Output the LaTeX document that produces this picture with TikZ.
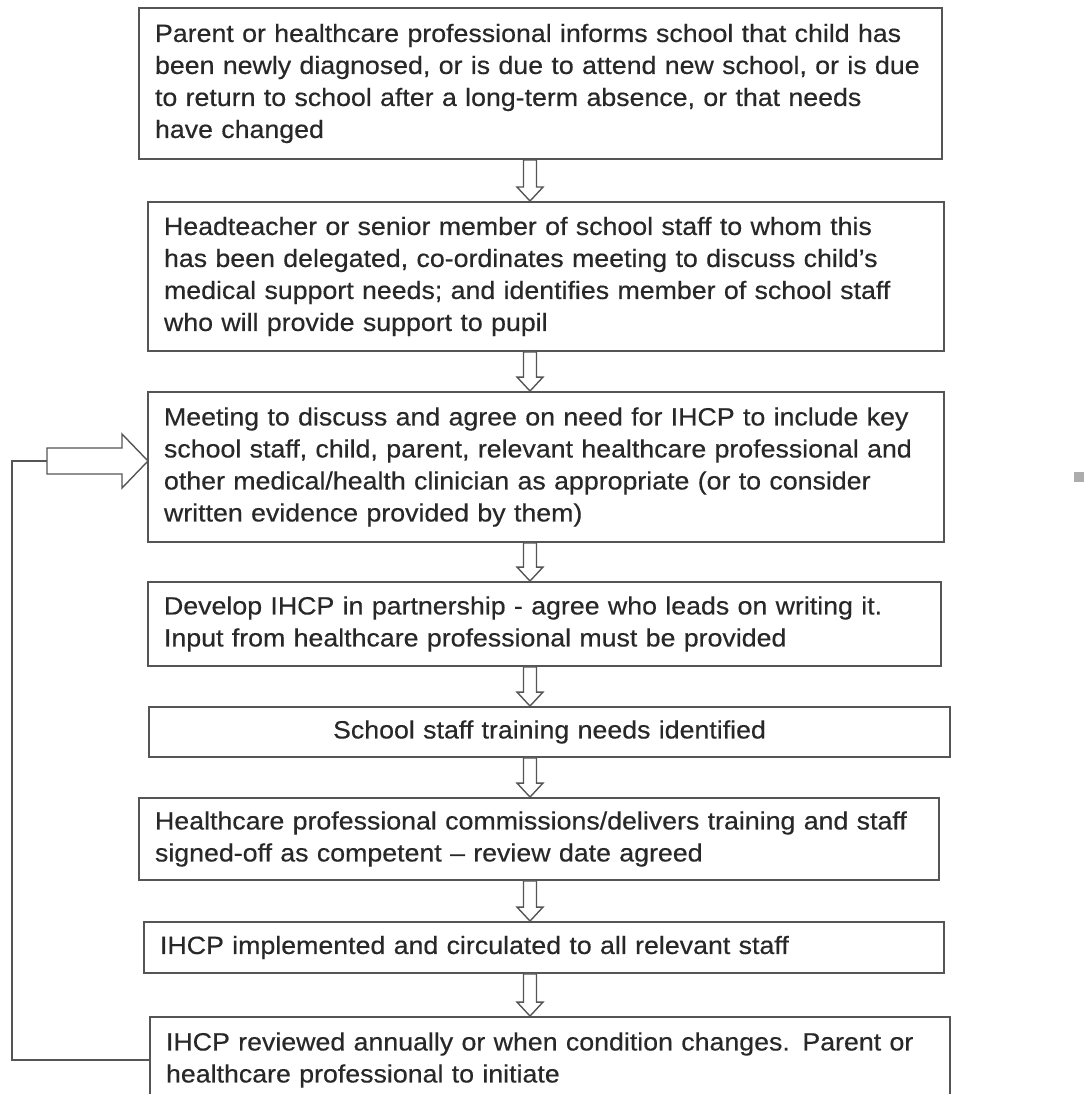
\documentclass[tikz,border=0pt]{standalone}
\usepackage{fontspec}
\setmainfont[FakeStretch=1.07,FakeBold=0.4]{Liberation Sans}
\usetikzlibrary{calc}
\definecolor{edge}{RGB}{85,85,85}
\definecolor{ink}{RGB}{40,40,40}
\tikzset{
  stepbox/.style={draw=edge, line width=1.9pt, text=ink, inner xsep=16pt, inner ysep=0pt,
    align=left, font=\fontsize{25}{32}\selectfont, anchor=center},
  blockarr/.style={draw=edge, line width=1.4pt, fill=white, line join=miter},
  loopline/.style={draw=edge, line width=1.6pt},
}
\newcommand\dnarrow[2]{\draw[blockarr] let \p1=(#1.south), \p2=(#2.north) in
  (523.5pt,\y1) -- (536.5pt,\y1) -- (536.5pt,\y2+14pt) -- (543pt,\y2+14pt) --
  (530pt,\y2) -- (517pt,\y2+14pt) -- (523.5pt,\y2+14pt) -- cycle;}
\begin{document}
\begin{tikzpicture}[x=1pt,y=-1pt]
\clip (0,0) rectangle (1085,1094);
\fill[white] (0,0) rectangle (1085,1094);

\node[stepbox, minimum height=151pt, text width=771pt] (b1) at (540.5,83.5)
 {Parent or healthcare professional informs school that child has\\
  been newly diagnosed, or is due to attend new school, or is due\\
  to return to school after a long-term absence, or that needs\\
  have changed};
\node[stepbox, minimum height=149pt, text width=764pt] (b2) at (546,276.5)
 {Headteacher or senior member of school staff to whom this\\
  has been delegated, co-ordinates meeting to discuss child’s\\
  medical support needs; and identifies member of school staff\\
  who will provide support to pupil};
\node[stepbox, minimum height=150pt, text width=764pt] (b3) at (546,467)
 {Meeting to discuss and agree on need for IHCP to include key\\
  school staff, child, parent, relevant healthcare professional and\\
  other medical/health clinician as appropriate (or to consider\\
  written evidence provided by them)};
\node[stepbox, minimum height=84pt, text width=761pt] (b4) at (544.5,624)
 {Develop IHCP in partnership - agree who leads on writing it.\\
  Input from healthcare professional must be provided};
\node[stepbox, align=center, minimum height=50pt, text width=769pt] (b5) at (549.5,732)
 {School staff training needs identified};
\node[stepbox, minimum height=82pt, text width=768pt] (b6) at (539,839)
 {Healthcare professional commissions/delivers training and staff\\
  signed-off as competent – review date agreed};
\node[stepbox, minimum height=51pt, text width=768pt] (b7) at (544,947.5)
 {IHCP implemented and circulated to all relevant staff};
\node[stepbox, minimum height=86pt, text width=768pt] (b8) at (550,1060)
 {IHCP reviewed annually or when condition changes. Parent or\\
  healthcare professional to initiate};

\dnarrow{b1}{b2}
\dnarrow{b2}{b3}
\dnarrow{b3}{b4}
\dnarrow{b4}{b5}
\dnarrow{b5}{b6}
\dnarrow{b6}{b7}
\dnarrow{b7}{b8}

\coordinate (tip) at (148,461);
\coordinate (tail) at (47,461);
\coordinate (corner) at (12,461);
\draw[loopline] (b8.west) -| (corner) -- (tail);
\draw[blockarr] let \p1=(tail), \p2=(tip) in
  (\x1,\y1+13pt) -- (\x2-26pt,\y1+13pt) -- (\x2-26pt,\y1+27pt) -- (\x2,\y2) --
  (\x2-26pt,\y1-27pt) -- (\x2-26pt,\y1-13pt) -- (\x1,\y1-13pt) -- cycle;

\node[fill=gray!65, draw=none, minimum size=10pt, inner sep=0pt] (dot) at (1079,477) {};
\end{tikzpicture}
\end{document}
